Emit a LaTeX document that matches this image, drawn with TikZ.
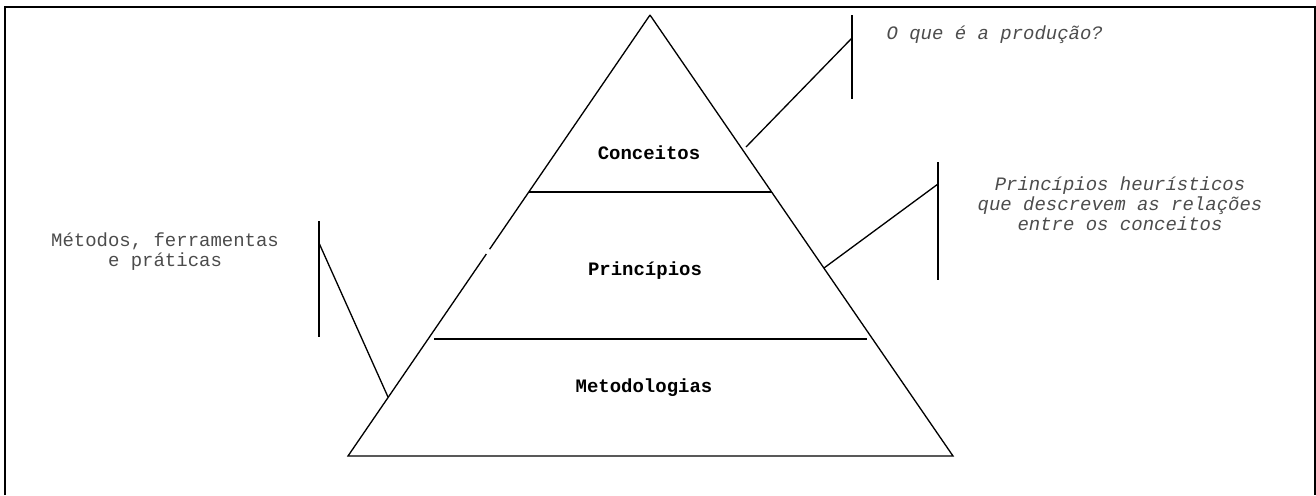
\documentclass[tikz,border=0pt]{standalone}
\usepackage{fontspec}
\setmonofont{Liberation Mono}
\usetikzlibrary{calc}

\begin{document}
\begin{tikzpicture}[x=0.02cm, y=-0.02cm, line width=0.75pt,
    layer/.style={font=\fontsize{10.8}{11.5}\selectfont\ttfamily\bfseries},
    note/.style={font=\fontsize{10.8}{11.3}\selectfont\ttfamily\itshape, text=black!70, align=center}]
    \useasboundingbox (0,0) rectangle (1316,495);

    % Frame, open at the bottom
    \draw[line width=1pt] (5,495) -- (5,7) -- (1315,7) -- (1315,495);

    % === PYRAMID ===
    \coordinate (apex) at (650,15);
    \coordinate (baseL) at (348,456);
    \coordinate (baseR) at (953,456);
    \draw (apex) -- ($(apex)!0.531!(baseL)$);
    \draw ($(apex)!0.542!(baseL)$) -- (baseL) -- (baseR) -- (apex);

    % Layer dividers
    \draw ($(apex)!0.401!(baseL)$) -- ($(apex)!0.401!(baseR)$);
    \draw (434,339) -- (867,339);

    % Layer names
    \node[layer] (conceitos) at (649,153) {Conceitos};
    \node[layer] (principios) at (645,271) {Princípios};
    \node[layer] (metodologias) at (644,388) {Metodologias};

    % === CALLOUT 1: Conceitos ===
    \coordinate (bar1top) at (852,15);
    \coordinate (bar1bot) at (852,99);
    \coordinate (bar1tip) at (852,38);
    \coordinate (edge1) at (746,147);
    \draw (bar1top) -- (bar1bot);
    \draw (edge1) -- (bar1tip);
    \node[note, anchor=west] (producao) at (880,35) {O que é a produção?};

    % === CALLOUT 2: Principios ===
    \coordinate (bar2top) at (938,162);
    \coordinate (bar2bot) at (938,280);
    \coordinate (bar2tip) at (938,184);
    \coordinate (edge2) at (824,268);
    \draw (bar2top) -- (bar2bot);
    \draw (edge2) -- (bar2tip);
    \node[note] (heuristicos) at (1120,204) {Princípios heurísticos\\que descrevem as relações\\entre os conceitos};

    % === CALLOUT 3: Metodologias ===
    \coordinate (bar3top) at (319,221);
    \coordinate (bar3bot) at (319,337);
    \coordinate (bar3tip) at (319,243);
    \coordinate (edge3) at (388,397);
    \draw (bar3top) -- (bar3bot);
    \draw (bar3tip) -- (edge3);
    \node[note, font=\fontsize{10.8}{11.3}\selectfont\ttfamily\upshape] (metodos) at (165,252) {Métodos, ferramentas\\e práticas};

\end{tikzpicture}
\end{document}
